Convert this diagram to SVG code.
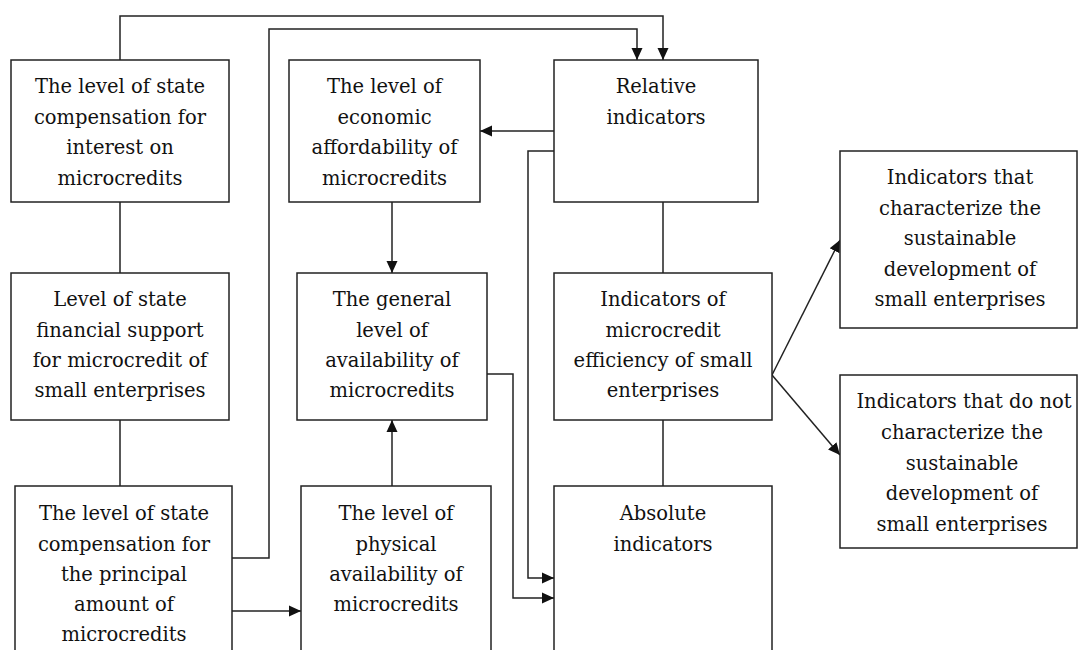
<svg xmlns="http://www.w3.org/2000/svg" width="1078" height="650" viewBox="0 0 1078 650">
<style>
.box{fill:#fff;stroke:#222;stroke-width:1.5}
.t{font-family:"DejaVu Serif","Liberation Serif",serif;font-size:19.5px;fill:#111;text-anchor:middle}
.c{fill:none;stroke:#222;stroke-width:1.5}
</style>
<defs>
<marker id="ah" markerUnits="userSpaceOnUse" markerWidth="14" markerHeight="14" refX="12" refY="6" orient="auto">
<path d="M0,0.5 L12,6 L0,11.5 Z" fill="#111"/>
</marker>
</defs>
<rect width="1078" height="650" fill="#fff"/>
<g id="connectors">
<path class="c" d="M120,60 V16 H663 V60" marker-end="url(#ah)"/>
<path class="c" d="M232,558 H269 V29 H637 V60" marker-end="url(#ah)"/>
<path class="c" d="M554,131 H480" marker-end="url(#ah)"/>
<path class="c" d="M554,151 H528 V578 H554" marker-end="url(#ah)"/>
<path class="c" d="M487,374 H513 V598 H554" marker-end="url(#ah)"/>
<path class="c" d="M392,202 V273" marker-end="url(#ah)"/>
<path class="c" d="M392,486 V420" marker-end="url(#ah)"/>
<path class="c" d="M232,611 H301" marker-end="url(#ah)"/>
<path class="c" d="M120,202 V273 M120,420 V486"/>
<path class="c" d="M663,202 V273 M663,420 V486"/>
<path class="c" d="M772,375 L840,240" marker-end="url(#ah)"/>
<path class="c" d="M772,375 L840,455" marker-end="url(#ah)"/>
</g>
<g id="n1">
<rect class="box" x="11" y="60" width="218" height="142"/>
<text class="t"><tspan x="120" y="93">The level of state</tspan><tspan x="120" y="123.5">compensation for</tspan><tspan x="120" y="154">interest on</tspan><tspan x="120" y="184.5">microcredits</tspan></text>
</g>
<g id="n2">
<rect class="box" x="11" y="273" width="218" height="147"/>
<text class="t"><tspan x="120" y="306">Level of state</tspan><tspan x="120" y="337">financial support</tspan><tspan x="120" y="367">for microcredit of</tspan><tspan x="120" y="397">small enterprises</tspan></text>
</g>
<g id="n3">
<rect class="box" x="15" y="486" width="217" height="180"/>
<text class="t"><tspan x="124" y="520">The level of state</tspan><tspan x="124" y="551">compensation for</tspan><tspan x="124" y="581">the principal</tspan><tspan x="124" y="611">amount of</tspan><tspan x="124" y="641">microcredits</tspan></text>
</g>
<g id="n4">
<rect class="box" x="289" y="60" width="191" height="142"/>
<text class="t"><tspan x="384.5" y="93">The level of</tspan><tspan x="384.5" y="123.5">economic</tspan><tspan x="384.5" y="154">affordability of</tspan><tspan x="384.5" y="184.5">microcredits</tspan></text>
</g>
<g id="n5">
<rect class="box" x="297" y="273" width="190" height="147"/>
<text class="t"><tspan x="392" y="306">The general</tspan><tspan x="392" y="337">level of</tspan><tspan x="392" y="367">availability of</tspan><tspan x="392" y="397">microcredits</tspan></text>
</g>
<g id="n6">
<rect class="box" x="301" y="486" width="190" height="180"/>
<text class="t"><tspan x="396" y="520">The level of</tspan><tspan x="396" y="551">physical</tspan><tspan x="396" y="581">availability of</tspan><tspan x="396" y="611">microcredits</tspan></text>
</g>
<g id="n7">
<rect class="box" x="554" y="60" width="204" height="142"/>
<text class="t"><tspan x="656" y="93">Relative</tspan><tspan x="656" y="123.5">indicators</tspan></text>
</g>
<g id="n8">
<rect class="box" x="554" y="273" width="218" height="147"/>
<text class="t"><tspan x="663" y="306">Indicators of</tspan><tspan x="663" y="337">microcredit</tspan><tspan x="663" y="367">efficiency of small</tspan><tspan x="663" y="397">enterprises</tspan></text>
</g>
<g id="n9">
<rect class="box" x="554" y="486" width="218" height="180"/>
<text class="t"><tspan x="663" y="520">Absolute</tspan><tspan x="663" y="551">indicators</tspan></text>
</g>
<g id="n10">
<rect class="box" x="840" y="151" width="237" height="177"/>
<text class="t"><tspan x="960" y="184">Indicators that</tspan><tspan x="960" y="215">characterize the</tspan><tspan x="960" y="245">sustainable</tspan><tspan x="960" y="276">development of</tspan><tspan x="960" y="306">small enterprises</tspan></text>
</g>
<g id="n11">
<rect class="box" x="840" y="375" width="237" height="173"/>
<text class="t"><tspan x="964" y="408">Indicators that do not</tspan><tspan x="962" y="439">characterize the</tspan><tspan x="962" y="470">sustainable</tspan><tspan x="962" y="500">development of</tspan><tspan x="962" y="531">small enterprises</tspan></text>
</g>
</svg>
